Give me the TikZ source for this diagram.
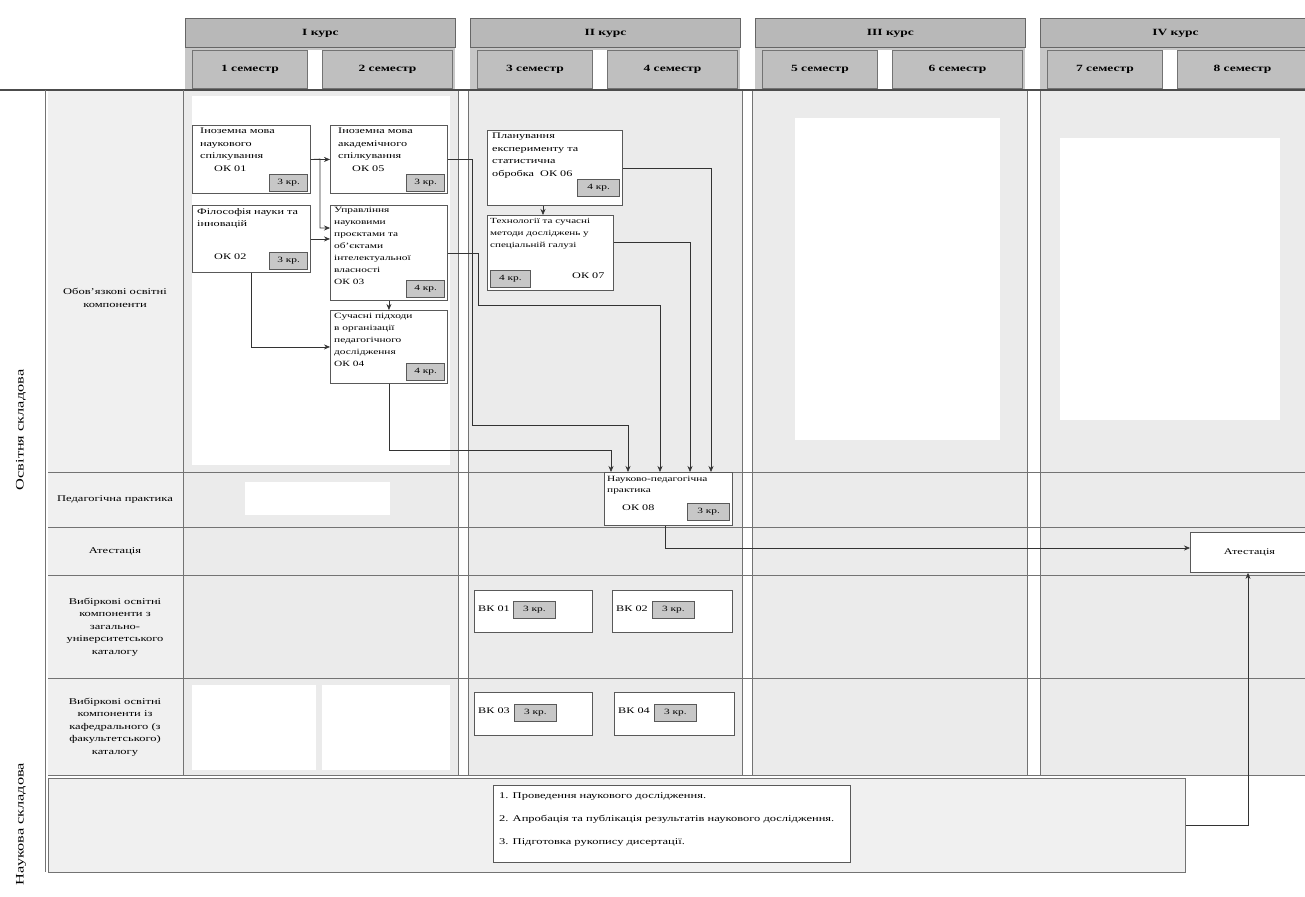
\documentclass[tikz,border=0pt]{standalone}
\usepackage{fontspec}
\setmainfont[FakeStretch=1.42]{Liberation Serif}
\usetikzlibrary{arrows.meta,calc}
\begin{document}
\begin{tikzpicture}[x=1pt,y=-1pt,
 every node/.style={inner sep=0pt},
 hdr/.style={draw=black!60, fill=black!28, line width=0.9pt, font=\fontsize{9.5}{11}\selectfont\bfseries},
 sem/.style={draw=black!55, fill=black!25, line width=0.9pt, font=\fontsize{9.5}{11}\selectfont\bfseries},
 panel/.style={fill=black!8, draw=black!55, line width=0.7pt},
 gridl/.style={draw=black!55, line width=0.9pt},
 box/.style={draw=black!65, fill=white, line width=0.9pt, anchor=north west},
 btxt/.style={anchor=north west, align=left, font=\fontsize{8.6}{12.5}\selectfont},
 kr/.style={draw=black!65, fill=black!22, line width=0.8pt, minimum width=38, minimum height=17, font=\fontsize{8}{9}\selectfont},
 rowlbl/.style={align=center, font=\fontsize{8.8}{12.4}\selectfont},
 conn/.style={draw=black!80, line width=0.6pt, -{Stealth[length=6pt,width=5pt]}},
]
\useasboundingbox (0,0) rectangle (1305,896);
\fill[white] (0,0) rectangle (1305,896);

% headers
\foreach \x/\n/\t/\sa/\sb in {185/1/I курс/1/2, 470/2/II курс/3/4, 755/3/III курс/5/6, 1040/4/IV курс/7/8} {
  \fill[black!22] (\x,47) rectangle (\x+270,90);
  \fill[white] (\x+122,50) rectangle (\x+137,90);
  \node[hdr, anchor=north west, minimum width=270, minimum height=29] (course\n) at (\x,18) {\t};
  \node[sem, anchor=north west, minimum width=115, minimum height=38] (sem\sa) at (\x+7,50) {\sa\ семестр};
  \node[sem, anchor=north west, minimum width=130, minimum height=38] (sem\sb) at (\x+137,50) {\sb\ семестр};
}

% panels
\fill[black!6] (48,90) rectangle (183,775);
\foreach \a/\b in {183/458, 468/742, 752/1027, 1040/1310}
  \filldraw[panel] (\a,90) rectangle (\b,775);
% white areas
\fill[white] (192,96) rectangle (450,465);
\fill[white] (795,118) rectangle (1000,440);
\fill[white] (1060,138) rectangle (1280,420);
\fill[white] (245,482) rectangle (390,515);
\fill[white] (192,685) rectangle (316,770);
\fill[white] (322,685) rectangle (450,770);

% grid lines
\draw[black!70, line width=1.6pt] (0,90) -- (1305,90);
\foreach \y in {472,527,575,678,775}
  \draw[gridl] (48,\y) -- (1305,\y);
\draw[gridl] (45,90) -- (45,872);
\draw[gridl] (183,90) -- (183,775);

% side labels
\node[rotate=90, font=\fontsize{11.5}{13}\selectfont] (osv) at (21,430) {Освітня складова};
\node[rotate=90, font=\fontsize{11.5}{13}\selectfont] (nauklbl) at (21,824) {Наукова складова};

% row labels
\node[rowlbl] (r1) at (115,298) {Обовʼязкові освітні\\компоненти};
\node[rowlbl] (r2) at (115,500) {Педагогічна практика};
\node[rowlbl] (r3) at (115,551) {Атестація};
\node[rowlbl] (r4) at (115,627) {Вибіркові освітні\\компоненти з\\загально-\\університетського\\каталогу};
\node[rowlbl] (r5) at (115,727) {Вибіркові освітні\\компоненти із\\кафедрального (з\\факультетського)\\каталогу};

% I курс boxes
\node[box, minimum width=118, minimum height=68] (b1) at (192,125) {};
\node[btxt] (b1t) at (200,128) {Іноземна мова\\наукового\\спілкування\\\hspace*{14pt}ОК 01};
\node[kr, anchor=south east] (b1k) at (308,192) {3 кр.};

\node[box, minimum width=117, minimum height=68] (b2) at (330,125) {};
\node[btxt] (b2t) at (338,128) {Іноземна мова\\академічного\\спілкування\\\hspace*{14pt}ОК 05};
\node[kr, anchor=south east] (b2k) at (445,192) {3 кр.};

\node[box, minimum width=118, minimum height=67] (b3) at (192,205) {};
\node[btxt] (b3t) at (197,208) {Філософія науки та\\інновацій};
\node[btxt] (b3c) at (214,254) {ОК 02};
\node[kr, anchor=south east] (b3k) at (308,270) {3 кр.};

\node[box, minimum width=117, minimum height=95] (b4) at (330,205) {};
\node[btxt, font=\fontsize{8}{12}\selectfont] (b4t) at (334,207) {Управління\\науковими\\проєктами та\\обʼєктами\\інтелектуальної\\власності\\ОК 03};
\node[kr, anchor=south east] (b4k) at (445,298) {4 кр.};

\node[box, minimum width=117, minimum height=73] (b5) at (330,310) {};
\node[btxt, font=\fontsize{8}{12}\selectfont] (b5t) at (334,313) {Сучасні підходи\\в організації\\педагогічного\\дослідження\\ОК 04};
\node[kr, anchor=south east] (b5k) at (445,381) {4 кр.};

% II курс boxes
\node[box, minimum width=135, minimum height=75] (b6) at (487,130) {};
\node[btxt] (b6t) at (492,133) {Планування\\експерименту та\\статистична\\обробка\ \ ОК 06};
\node[kr, anchor=south east, minimum width=42] (b6k) at (620,197) {4 кр.};

\node[box, minimum width=126, minimum height=75] (b7) at (487,215) {};
\node[btxt, font=\fontsize{7.8}{12}\selectfont] (b7t) at (490,218) {Технології та сучасні\\методи досліджень у\\спеціальній галузі};
\node[kr, anchor=south west, minimum width=40] (b7k) at (490,288) {4 кр.};
\node[btxt] (b7c) at (572,273) {ОК 07};

\node[box, minimum width=128, minimum height=53] (b8) at (604,472) {};
\node[btxt, font=\fontsize{8}{11}\selectfont] (b8t) at (607,476) {Науково-педагогічна\\практика};
\node[btxt] (b8c) at (622,505) {ОК 08};
\node[kr, anchor=south east, minimum width=42] (b8k) at (730,521) {3 кр.};

% атестація
\node[box, minimum width=118, minimum height=40, font=\fontsize{8.6}{11}\selectfont] (b9) at (1190,532) {Атестація};

% вибіркові
\node[box, minimum width=118, minimum height=42] (b10) at (474,590) {};
\node[btxt] (b10t) at (478,606) {ВК 01};
\node[kr, anchor=west, minimum width=42] (b10k) at (513,610) {3 кр.};
\node[box, minimum width=120, minimum height=42] (b11) at (612,590) {};
\node[btxt] (b11t) at (616,606) {ВК 02};
\node[kr, anchor=west, minimum width=42] (b11k) at (652,610) {3 кр.};
\node[box, minimum width=118, minimum height=43] (b12) at (474,692) {};
\node[btxt] (b12t) at (478,708) {ВК 03};
\node[kr, anchor=west, minimum width=42] (b12k) at (514,713) {3 кр.};
\node[box, minimum width=120, minimum height=43] (b13) at (614,692) {};
\node[btxt] (b13t) at (618,708) {ВК 04};
\node[kr, anchor=west, minimum width=42] (b13k) at (654,713) {3 кр.};

% наукова складова
\node[draw=black!55, fill=black!6, line width=0.9pt, anchor=north west, minimum width=1137, minimum height=94] (nauk) at (48,778) {};
\node[box, minimum width=357, minimum height=77] (res) at (493,785) {};
\node[btxt, font=\fontsize{8.8}{23}\selectfont] (rest) at (499,792) {1. Проведення наукового дослідження.\\2. Апробація та публікація результатів наукового дослідження.\\3. Підготовка рукопису дисертації.};

% connectors
\draw[conn] (b1.east) -- (b2.west);
\draw[conn] (b1.east) -- (320,159) |- (b4.west |- 0,228);
\draw[conn] (b3.east) -- (b3.east -| b4.west);
\draw[conn] (b4.south) -- (b5.north);
\draw[conn] (b3.south) |- (b5.west);
\draw[conn] (b5.south) -- (b5.south |- 0,450) -| ($(b8.north west)+(7,0)$);
\draw[conn] (b2.east) -| (472,425) -| ($(b8.north west)+(24,0)$);
\draw[conn] (b4.east) -| (478,305) -| ($(b8.north west)+(56,0)$);
\draw[conn] (b7.east |- 0,242) -| ($(b8.north west)+(86,0)$);
\draw[conn] (b6.east |- 0,168) -| ($(b8.north west)+(107,0)$);
\draw[conn] (b6.south -| 543,0) -- (b7.north -| 543,0);
\draw[conn] (b8.south -| 665,0) |- (b9.west |- 0,548);
\draw[conn] (nauk.east |- 0,825) -| (b9.south -| 1248,0);
\end{tikzpicture}
\end{document}
